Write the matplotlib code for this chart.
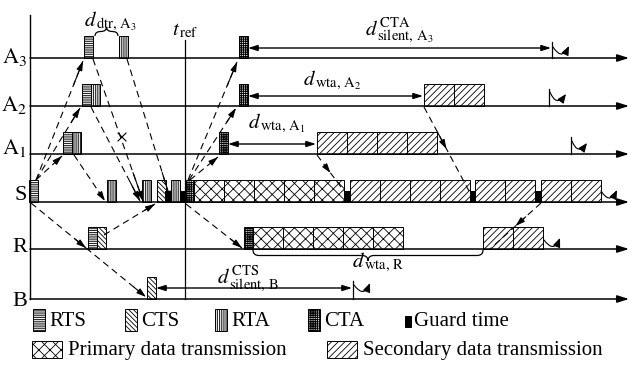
import matplotlib
matplotlib.use('Agg')
import matplotlib.pyplot as plt
from matplotlib.patches import Rectangle, PathPatch
from matplotlib.path import Path

plt.rcParams['font.family'] = ['Liberation Serif', 'DejaVu Serif']
plt.rcParams['mathtext.fontset'] = 'stix'
plt.rcParams['hatch.linewidth'] = 0.6

# time lines (pixel rows of the diagram)
nodes = ['A3', 'A2', 'A1', 'S', 'R', 'B']
node_y = [58, 106, 154, 202, 249, 299]
node_labels = [r'$\mathrm{A}_3$', r'$\mathrm{A}_2$', r'$\mathrm{A}_1$', 'S', 'R', 'B']
Y = dict(zip(nodes, node_y))

# control frames: (node, start)
rts_frames = [('A3', 84), ('A2', 82), ('A1', 63), ('S', 29), ('R', 88)]
cts_frames = [('S', 157), ('R', 97), ('B', 147)]
rta_frames = [('A3', 119), ('A2', 91), ('A1', 72), ('S', 107), ('S', 142), ('S', 171)]
cta_frames = [('A3', 239), ('A2', 239), ('A1', 219), ('S', 186), ('R', 244)]
guard_times = [('S', 165), ('S', 180), ('S', 344), ('S', 469), ('S', 535)]
# data slots: (node, start, number of slots)
primary_runs = [('S', 194, 5), ('R', 253, 5)]
secondary_runs = [('A2', 424, 2), ('A1', 317, 4), ('S', 350, 4), ('S', 475, 2),
                  ('S', 541, 2), ('R', 483, 2)]

# dashed propagation arrows: (x0, y0, x1, y1)
prop_arrows = [(36, 180, 83, 61), (36, 180, 80, 108), (36, 180, 62, 156),
               (31, 203, 86, 248), (86, 248, 146, 297), (104, 235, 155, 204),
               (74, 155, 105, 201), (91, 107, 140, 201), (93, 59, 143, 201),
               (127, 59, 171, 201), (188, 180, 237, 62), (189, 180, 236, 108),
               (190, 180, 218, 157), (186, 204, 242, 248)]
# dashed arrows with the head half way
mid_arrows = [(317, 155, 344, 191), (424, 107, 469, 191), (541, 203, 490, 249)]

# waiting / silent periods: (start, end, row)
periods = [(248, 551, 48), (248, 423, 96), (228, 316, 144), (156, 352, 288)]
period_ticks = [(552, 42, 58), (549, 89, 106), (571, 137, 154), (353, 281, 299)]
# curved "go" arrows: (x0, y0, x1, y1)
go_arrows = [(553, 47, 569, 46), (550, 92, 566, 94), (572, 141, 587, 143),
             (601, 191, 617, 190), (544, 240, 560, 238), (354, 285, 370, 283)]

t_ref = 185
CTRL_W, SLOT_W, BOX_H = 9, 30, 22
GUARD_W, GUARD_H = 6, 11

fig = plt.figure(figsize=(6.3, 3.69), dpi=100)
ax = fig.add_axes([0, 0, 1, 1])
ax.set_xlim(0, 630)
ax.set_ylim(369, 0)
ax.axis('off')


def box(x, ybase, w, h, hatch=None, fc='white', lw=0.7):
    ax.add_patch(Rectangle((x, ybase - h), w, h, facecolor=fc, edgecolor='k',
                           hatch=hatch, lw=lw))


def head(x0, y0, x1, y1, ms=8):
    ax.annotate('', xy=(x1, y1), xytext=(x0, y0),
                arrowprops=dict(arrowstyle='-|>,head_length=0.7,head_width=0.22',
                                color='k', lw=0.8, mutation_scale=ms,
                                shrinkA=0, shrinkB=0))


def dashed(x0, y0, x1, y1):
    ax.plot([x0, x1], [y0, y1], color='k', lw=0.8, dashes=(6, 4))


def brace(x0, x1, y0, h):
    xm = (x0 + x1) / 2
    q = min(6, (x1 - x0) / 4)
    yh = y0 + h / 2
    verts = [(x0, y0), (x0, yh), (x0 + q, yh), (xm - q, yh), (xm, yh), (xm, y0 + h),
             (xm, yh), (xm + q, yh), (x1 - q, yh), (x1, yh), (x1, y0)]
    codes = [Path.MOVETO, Path.CURVE3, Path.CURVE3, Path.LINETO, Path.CURVE3, Path.CURVE3,
             Path.CURVE3, Path.CURVE3, Path.LINETO, Path.CURVE3, Path.CURVE3]
    ax.add_patch(PathPatch(Path(verts, codes), fill=False, lw=0.9))


# axes
ax.plot([30, 30], [15, 299], color='k', lw=1)
ax.plot([t_ref, t_ref], [40, 299], color='k', lw=0.9)
for n, y, lab, ly in zip(nodes, node_y, node_labels, [57, 105, 148, 196, 247, 301]):
    ax.annotate('', xy=(629, y), xytext=(30, y),
                arrowprops=dict(arrowstyle='-|>,head_length=0.7,head_width=0.22',
                                color='k', lw=1.1, mutation_scale=10,
                                shrinkA=0, shrinkB=0))
    ax.text(27, ly, lab, ha='right', va='center', fontsize=16)

# frames
H_RTS, H_CTS, H_RTA, H_CTA = '-' * 9, '\\' * 7, '|' * 9, '+' * 9
H_PRI, H_SEC = 'xxx', '/////'
for n, x in rts_frames:
    box(x, Y[n], CTRL_W, BOX_H, H_RTS)
for n, x in cts_frames:
    box(x, Y[n], CTRL_W, BOX_H, H_CTS)
for n, x in rta_frames:
    box(x, Y[n], CTRL_W, BOX_H, H_RTA)
for n, x in cta_frames:
    box(x, Y[n], CTRL_W, BOX_H, H_CTA)
for n, x in guard_times:
    box(x, Y[n], GUARD_W, GUARD_H, fc='k')
for n, x, k in primary_runs:
    for i in range(k):
        box(x + i * SLOT_W, Y[n], SLOT_W, BOX_H, H_PRI)
for n, x, k in secondary_runs:
    for i in range(k):
        box(x + i * SLOT_W, Y[n], SLOT_W, BOX_H, H_SEC)

# propagation
for x0, y0, x1, y1 in prop_arrows:
    dashed(x0, y0, x1, y1)
    head(x0 + (x1 - x0) * 0.8, y0 + (y1 - y0) * 0.8, x1, y1)
for x0, y0, x1, y1 in mid_arrows:
    dashed(x0, y0, x1, y1)
    head(x0 + (x1 - x0) * 0.3, y0 + (y1 - y0) * 0.3,
         x0 + (x1 - x0) * 0.5, y0 + (y1 - y0) * 0.5)
# lost frame
ax.plot([118, 126], [133, 141], color='k', lw=0.8)
ax.plot([118, 126], [141, 133], color='k', lw=0.8)

# periods
for x0, x1, y in periods:
    ax.annotate('', xy=(x1, y), xytext=(x0, y),
                arrowprops=dict(arrowstyle='<|-|>,head_length=0.7,head_width=0.22',
                                color='k', lw=1, mutation_scale=8,
                                shrinkA=0, shrinkB=0))
for x, ya, yb in period_ticks:
    ax.plot([x, x], [ya, yb], color='k', lw=0.9)
for x0, y0, x1, y1 in go_arrows:
    ax.annotate('', xy=(x1, y1), xytext=(x0, y0),
                arrowprops=dict(arrowstyle='-|>,head_length=0.6,head_width=0.25',
                                color='k', lw=0.8, mutation_scale=9,
                                shrinkA=0, shrinkB=0,
                                connectionstyle='arc3,rad=0.9'))

brace(95, 118, 36, -9)
brace(253, 483, 250, 11)

fs = 15
ax.text(84, 26, r'$d_{\,\mathrm{dtr,\,A}_3}$', fontsize=fs, va='baseline')
ax.text(172, 35, r'$t_{\,\mathrm{ref}}$', fontsize=fs, va='baseline')
ax.text(365, 35, r'$d^{\,\mathrm{CTA}}_{\,\mathrm{silent,\,A}_3}$', fontsize=fs, va='baseline')
ax.text(303, 85, r'$d_{\,\mathrm{wta,\,A}_2}$', fontsize=fs, va='baseline')
ax.text(248, 128, r'$d_{\,\mathrm{wta,\,A}_1}$', fontsize=fs, va='baseline')
ax.text(217, 283, r'$d^{\,\mathrm{CTS}}_{\,\mathrm{silent,\,B}}$', fontsize=fs, va='baseline')
ax.text(352, 267, r'$d_{\,\mathrm{wta,\,R}}$', fontsize=fs, va='baseline')

# legend
legend_row1 = [('RTS', H_RTS, 33), ('CTS', H_CTS, 125), ('RTA', H_RTA, 215),
               ('CTA', H_CTA, 308)]
for lab, h, x in legend_row1:
    box(x, 331, 12, 22, h)
    ax.text(x + 16, 321, lab, fontsize=fs, va='center')
box(405, 327, 6, 11, fc='k')
ax.text(414, 321, 'Guard time', fontsize=fs, va='center')
box(32, 358, 30, 17, H_PRI)
ax.text(68, 350, 'Primary data transmission', fontsize=fs, va='center')
box(327, 358, 30, 17, H_SEC)
ax.text(363, 350, 'Secondary data transmission', fontsize=fs, va='center')

fig.savefig('out.png', dpi=100)
